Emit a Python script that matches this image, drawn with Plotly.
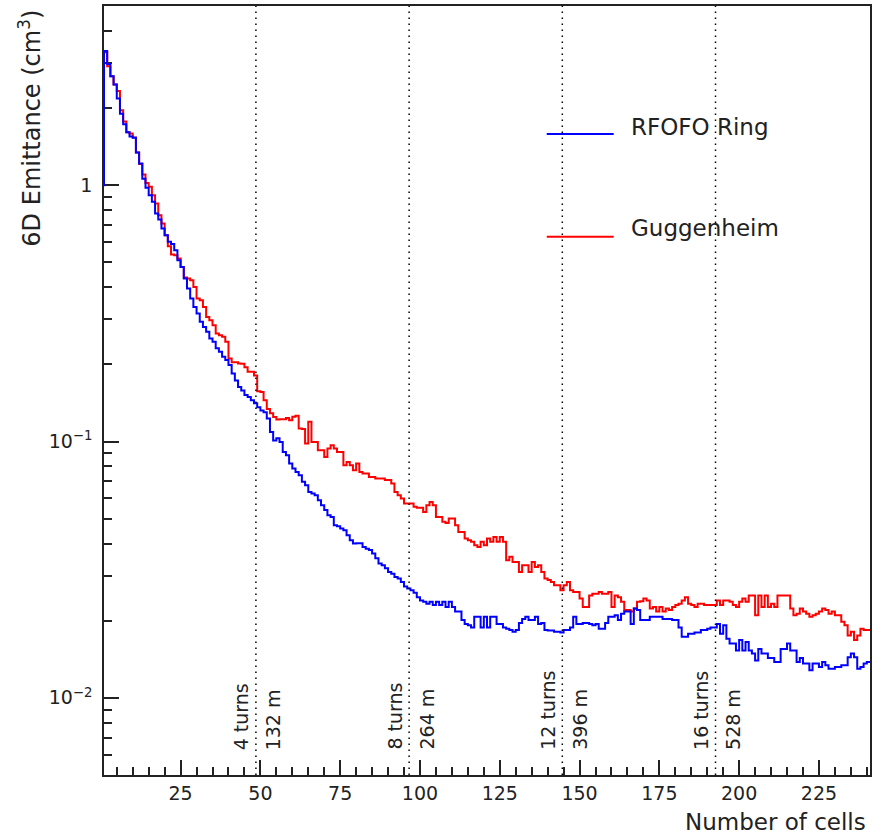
import numpy as np
import plotly.graph_objects as go

# ---------------- data ----------------
# 6D emittance per cell (cm^3), one value per cell bin, cells 1..240
rfofo_ring = [
    3.34, 2.97, 2.66, 2.47, 2.18, 1.90, 1.73, 1.61, 1.55, 1.53,
    1.34, 1.215, 1.06, 0.976, 0.914, 0.861, 0.776, 0.735, 0.678, 0.638,
    0.601, 0.589, 0.557, 0.509, 0.480, 0.432, 0.395, 0.361, 0.335, 0.316,
    0.293, 0.280, 0.268, 0.252, 0.245, 0.231, 0.224, 0.214, 0.208, 0.199,
    0.184, 0.173, 0.163, 0.158, 0.152, 0.149, 0.145, 0.141, 0.136, 0.132,
    0.130, 0.123, 0.109, 0.101, 0.103, 0.0996, 0.0911, 0.0884, 0.0821, 0.0785,
    0.0761, 0.0739, 0.0696, 0.0675, 0.0636, 0.0627, 0.0617, 0.0590, 0.0564, 0.0540,
    0.0516, 0.0508, 0.0471, 0.0467, 0.0458, 0.0451, 0.0431, 0.0412, 0.0400, 0.0401,
    0.0401, 0.0388, 0.0382, 0.0377, 0.0366, 0.0350, 0.0334, 0.0329, 0.0320, 0.0310,
    0.0305, 0.0296, 0.0292, 0.0283, 0.0272, 0.0267, 0.0263, 0.0257, 0.0247, 0.0240,
    0.0237, 0.0233, 0.0237, 0.0230, 0.0237, 0.0230, 0.0237, 0.0226, 0.0237, 0.0226,
    0.0217, 0.0217, 0.0201, 0.0194, 0.0192, 0.0188, 0.0207, 0.0207, 0.0188, 0.0207,
    0.0188, 0.0207, 0.0207, 0.0194, 0.0194, 0.0188, 0.0186, 0.0184, 0.0181, 0.0184,
    0.0196, 0.0203, 0.0207, 0.0201, 0.0201, 0.0207, 0.0194, 0.0196, 0.0184, 0.0183,
    0.0183, 0.0181, 0.0181, 0.0180, 0.0184, 0.0184, 0.0188, 0.0207, 0.0194, 0.0194,
    0.0196, 0.0196, 0.0194, 0.0192, 0.0194, 0.0186, 0.0186, 0.0196, 0.0207, 0.0207,
    0.0210, 0.0201, 0.0213, 0.0217, 0.0217, 0.0194, 0.0223, 0.0220, 0.0201, 0.0201,
    0.0201, 0.0207, 0.0207, 0.0207, 0.0207, 0.0203, 0.0203, 0.0203, 0.0201, 0.0201,
    0.0188, 0.0173, 0.0173, 0.0178, 0.0178, 0.0180, 0.0180, 0.0184, 0.0184, 0.0186,
    0.0188, 0.0188, 0.0194, 0.0178, 0.0192, 0.0170, 0.0163, 0.0163, 0.0153, 0.0168,
    0.0153, 0.0165, 0.0153, 0.0149, 0.0140, 0.0155, 0.0149, 0.0149, 0.0143, 0.0143,
    0.0138, 0.0138, 0.0155, 0.0155, 0.0163, 0.0153, 0.0153, 0.0138, 0.0143, 0.0136,
    0.0136, 0.0128, 0.0136, 0.0136, 0.0132, 0.0138, 0.0134, 0.0130, 0.0130, 0.0132,
    0.0132, 0.0134, 0.0134, 0.0144, 0.0149, 0.0144, 0.0130, 0.0132, 0.0136, 0.0138,
]
rfofo_underflow = 1.0   # content just before the first drawn cell

guggenheim = [
    3.30, 2.91, 2.66, 2.47, 2.33, 1.96, 1.77, 1.61, 1.59, 1.535,
    1.34, 1.21, 1.10, 1.02, 0.985, 0.914, 0.848, 0.764, 0.709, 0.638,
    0.578, 0.537, 0.533, 0.518, 0.480, 0.436, 0.432, 0.426, 0.401, 0.361,
    0.356, 0.335, 0.306, 0.297, 0.284, 0.264, 0.260, 0.256, 0.245, 0.211,
    0.204, 0.204, 0.2015, 0.201, 0.195, 0.187, 0.187, 0.181, 0.157, 0.156,
    0.145, 0.134, 0.129, 0.1247, 0.1218, 0.122, 0.122, 0.1236, 0.121, 0.125,
    0.126, 0.1124, 0.112, 0.0982, 0.1193, 0.0996, 0.0996, 0.0925, 0.0925, 0.0870,
    0.0939, 0.0967, 0.0939, 0.0911, 0.0911, 0.0808, 0.0832, 0.0808, 0.0773, 0.0821,
    0.0761, 0.0750, 0.0750, 0.0727, 0.0727, 0.0717, 0.0717, 0.0717, 0.0707, 0.0707,
    0.0686, 0.0636, 0.0617, 0.0599, 0.0573, 0.0573, 0.0573, 0.0556, 0.0552, 0.0552,
    0.0531, 0.0564, 0.0581, 0.0564, 0.0508, 0.0508, 0.0486, 0.0481, 0.0501, 0.0501,
    0.0471, 0.0444, 0.0444, 0.0418, 0.0412, 0.0406, 0.0394, 0.0388, 0.0406, 0.0394,
    0.0418, 0.0406, 0.0424, 0.0406, 0.0424, 0.0406, 0.0344, 0.0355, 0.0339, 0.0339,
    0.0310, 0.0329, 0.0329, 0.0310, 0.0339, 0.0324, 0.0329, 0.0310, 0.0292, 0.0288,
    0.0283, 0.0275, 0.0275, 0.0263, 0.0275, 0.0283, 0.0263, 0.0259, 0.0259, 0.0244,
    0.0226, 0.0226, 0.0251, 0.0255, 0.0255, 0.0259, 0.0255, 0.0255, 0.0259, 0.0226,
    0.0251, 0.0247, 0.0237, 0.0220, 0.0220, 0.0217, 0.0223, 0.0237, 0.0238, 0.0244,
    0.0240, 0.0223, 0.0226, 0.0217, 0.0226, 0.0217, 0.0223, 0.0220, 0.0226, 0.0230,
    0.0233, 0.0240, 0.0247, 0.0233, 0.0230, 0.0226, 0.0233, 0.0233, 0.0230, 0.0230,
    0.0230, 0.0230, 0.0240, 0.0230, 0.0240, 0.0240, 0.0237, 0.0230, 0.0226, 0.0237,
    0.0244, 0.0237, 0.0251, 0.0251, 0.0210, 0.0251, 0.0226, 0.0251, 0.0226, 0.0233,
    0.0226, 0.0251, 0.0251, 0.0251, 0.0251, 0.0223, 0.0210, 0.0213, 0.0223, 0.0217,
    0.0213, 0.0207, 0.0210, 0.0213, 0.0217, 0.0223, 0.0220, 0.0213, 0.0217, 0.0210,
    0.0210, 0.0198, 0.0192, 0.0175, 0.0181, 0.0168, 0.0175, 0.0186, 0.0184, 0.0184,
]

first_cell = 1
turn_counts = [4, 8, 12, 16]
turn_lengths_m = [132, 264, 396, 528]
turn_cells = [48.6, 96.6, 144.6, 192.6]

x_major_ticks = [25, 50, 75, 100, 125, 150, 175, 200, 225]
y_major_ticks = [0.01, 0.1, 1]
y_major_text = ["10<sup>\u22122</sup>", "10<sup>\u22121</sup>", "1"]

# ---------------- figure ----------------
BLUE = "#0000ff"
RED = "#ff0000"
AX = "#222222"
FONT = "DejaVu Sans"

def step_xy(vals, start, underflow=None):
    n = len(vals)
    edges = list(np.arange(start, start + n + 1))
    xs = edges[:-1] + [edges[-1]]
    ys = list(vals) + [vals[-1]]
    if underflow is not None:
        xs = [start - 1] + xs
        ys = [underflow] + ys
    return xs, ys

n_bins = len(rfofo_ring)
x_lo, x_hi = first_cell, first_cell + n_bins

fig = go.Figure()
gx, gy = step_xy(guggenheim, first_cell)
fig.add_trace(go.Scatter(x=gx, y=gy, mode="lines", line=dict(color=RED, width=2, shape="hv"),
                         name="Guggenheim", showlegend=False))
bx, by = step_xy(rfofo_ring, first_cell, rfofo_underflow)
fig.add_trace(go.Scatter(x=bx, y=by, mode="lines", line=dict(color=BLUE, width=2, shape="hv"),
                         name="RFOFO Ring", showlegend=False))

# turn markers
for t, L, c in zip(turn_counts, turn_lengths_m, turn_cells):
    fig.add_shape(type="line", xref="x", yref="paper", x0=c, x1=c, y0=0, y1=1,
                  line=dict(color="black", width=1.5, dash="1.5px,4.5px"))
    fig.add_annotation(x=c, xref="x", y=0.03, yref="paper", text=f"{t} turns",
                       textangle=-90, xanchor="center", yanchor="bottom", xshift=-14,
                       showarrow=False, font=dict(family=FONT, size=19, color=AX))
    fig.add_annotation(x=c, xref="x", y=0.03, yref="paper", text=f"{L} m",
                       textangle=-90, xanchor="center", yanchor="bottom", xshift=18,
                       showarrow=False, font=dict(family=FONT, size=19, color=AX))

# legend (drawn by hand, like the reference)
legend_items = [("RFOFO Ring", BLUE, 0.8336, 0.8433), ("Guggenheim", RED, 0.7000, 0.7107)]
for name, col, yl, yt in legend_items:
    fig.add_shape(type="line", xref="paper", yref="paper", x0=0.578, x1=0.6654, y0=yl, y1=yl,
                  line=dict(color=col, width=2))
    fig.add_annotation(x=0.6849, y=yt, xref="paper", yref="paper", text=name, showarrow=False,
                       xanchor="left", yanchor="middle", font=dict(family=FONT, size=23, color=AX))

# axis titles
fig.add_annotation(x=0.9974, y=-0.0611, xref="paper", yref="paper", text="Number of cells",
                   showarrow=False, xanchor="right", yanchor="middle",
                   font=dict(family=FONT, size=23, color=AX))
fig.add_annotation(x=-0.0964, y=0.9974, xref="paper", yref="paper",
                   text="6D Emittance (cm<sup>3</sup>)", textangle=-90,
                   showarrow=False, xanchor="center", yanchor="top",
                   font=dict(family=FONT, size=24, color=AX))

x_minor = [v for v in range(5, x_hi, 5) if v not in x_major_ticks]
y_minor = []
for dec in [0.001, 0.01, 0.1, 1]:
    for m in range(2, 10):
        v = round(m * dec, 6)
        if 0.005 <= v < 5 and v not in y_major_ticks:
            y_minor.append(v)

fig.update_layout(
    width=875, height=836,
    margin=dict(l=104, r=3, t=6, b=61),
    paper_bgcolor="white", plot_bgcolor="white",
    showlegend=False,
    font=dict(family=FONT, size=19, color=AX),
    xaxis=dict(
        range=[x_lo, x_hi], showgrid=False, zeroline=False,
        showline=True, linecolor=AX, linewidth=1.5, mirror=True,
        ticks="inside", ticklen=15, tickwidth=1.5, tickcolor=AX,
        tickmode="array", tickvals=x_major_ticks,
        ticklabelstandoff=0,
        tickfont=dict(family=FONT, size=19, color=AX),
        minor=dict(ticks="inside", ticklen=8, tickwidth=1.5, tickcolor=AX,
                   tickmode="array", tickvals=x_minor, showgrid=False),
    ),
    yaxis=dict(
        type="log", range=[np.log10(0.005), np.log10(5)],
        showgrid=False, zeroline=False,
        showline=True, linecolor=AX, linewidth=1.5, mirror=True,
        layer="below traces",
        ticks="inside", ticklen=15, tickwidth=1.5, tickcolor=AX,
        tickmode="array", tickvals=y_major_ticks, ticktext=y_major_text,
        ticklabelstandoff=6,
        tickfont=dict(family=FONT, size=19, color=AX),
        minor=dict(ticks="inside", ticklen=8, tickwidth=1.5, tickcolor=AX,
                   tickmode="array", tickvals=y_minor, showgrid=False),
    ),
)

fig.write_html("out.html")
